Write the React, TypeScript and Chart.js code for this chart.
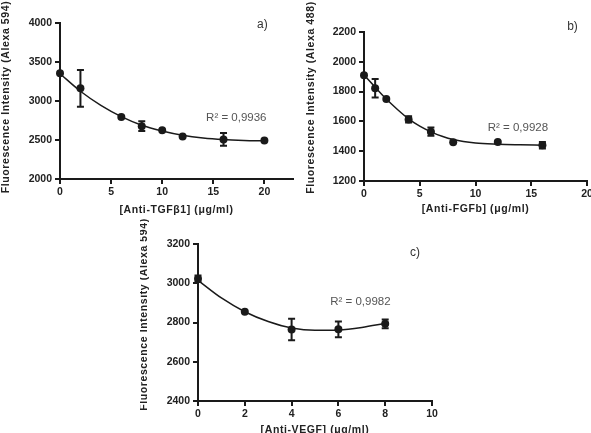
import { useEffect, useRef } from 'react';
import { Chart, registerables } from 'chart.js';

Chart.register(...registerables);

// a) anti-TGFβ1 dose response (mean ± SD) and fitted curve
const tgfDose = [0, 2, 6, 8, 10, 12, 16, 20];
const tgfMean = [3355, 3162, 2795, 2677, 2625, 2545, 2508, 2495];
const tgfSd = [0, 235, 0, 62, 0, 0, 82, 0];
const tgfFitDose = [0, 2, 4, 6, 8, 10, 12, 14, 16, 18, 20];
const tgfFit = [3350, 3125, 2945, 2800, 2690, 2615, 2560, 2525, 2505, 2495, 2490];

// b) anti-FGFb dose response
const fgfDose = [0, 1, 2, 4, 6, 8, 12, 16];
const fgfMean = [1910, 1822, 1750, 1613, 1531, 1460, 1462, 1440];
const fgfSd = [0, 62, 0, 21, 28, 0, 0, 22];
const fgfFitDose = [0, 1, 2, 3, 4, 5, 6, 7, 8, 10, 12, 14, 16];
const fgfFit = [1912, 1830, 1750, 1680, 1617, 1568, 1530, 1500, 1478, 1455, 1447, 1443, 1440];

// c) anti-VEGF dose response
const vegfDose = [0, 2, 4, 6, 8];
const vegfMean = [3023, 2855, 2764, 2765, 2793];
const vegfSd = [17, 0, 55, 40, 22];
const vegfFitDose = [0, 1, 2, 3, 4, 5, 6, 7, 8];
const vegfFit = [3015, 2925, 2855, 2805, 2772, 2760, 2762, 2775, 2795];

const INK = '#1a1a1a';
const FAMILY = '"Liberation Sans", Arial, sans-serif';

type PanelSpec = {
  box: { left: number; top: number; width: number; height: number };
  yAxisWidth: number;
  xAxisHeight: number;
  padTop: number;
  padRight: number;
  xMin: number;
  xMax: number;
  xStep: number;
  xLastTick: number;
  yMin: number;
  yMax: number;
  yStep: number;
  dose: number[];
  mean: number[];
  sd: number[];
  fitDose: number[];
  fit: number[];
  xTitle: string;
  yTitle: string;
  yTitleGap: number;
  yTitleShift: number;
  xTitleY: number;
  r2: string;
  r2At: [number, number];
  tag: string;
  tagAt: [number, number];
};

const panels: PanelSpec[] = [
  {
    box: { left: 0, top: 0, width: 300, height: 216 },
    yAxisWidth: 60, xAxisHeight: 37, padTop: 23, padRight: 7,
    xMin: 0, xMax: 22.8, xStep: 5, xLastTick: 20, yMin: 2000, yMax: 4000, yStep: 500,
    dose: tgfDose, mean: tgfMean, sd: tgfSd, fitDose: tgfFitDose, fit: tgfFit,
    xTitle: '[Anti-TGFβ1] (μg/ml)',
    yTitle: 'Fluorescence Intensity (Alexa 594)',
    yTitleGap: 54, yTitleShift: -4, xTitleY: 210,
    r2: 'R² = 0,9936', r2At: [17.25, 2782],
    tag: 'a)', tagAt: [19.8, 3975],
  },
  {
    box: { left: 300, top: 0, width: 291, height: 216 },
    yAxisWidth: 64, xAxisHeight: 35, padTop: 32, padRight: 4,
    xMin: 0, xMax: 20, xStep: 5, xLastTick: 20, yMin: 1200, yMax: 2200, yStep: 200,
    dose: fgfDose, mean: fgfMean, sd: fgfSd, fitDose: fgfFitDose, fit: fgfFit,
    xTitle: '[Anti-FGFb] (μg/ml)',
    yTitle: 'Fluorescence Intensity (Alexa 488)',
    yTitleGap: 53, yTitleShift: -9, xTitleY: 209.5,
    r2: 'R² = 0,9928', r2At: [13.8, 1556],
    tag: 'b)', tagAt: [18.7, 2234],
  },
  {
    box: { left: 140, top: 210, width: 300, height: 223 },
    yAxisWidth: 58, xAxisHeight: 32, padTop: 34, padRight: 8,
    xMin: 0, xMax: 10, xStep: 2, xLastTick: 10, yMin: 2400, yMax: 3200, yStep: 200,
    dose: vegfDose, mean: vegfMean, sd: vegfSd, fitDose: vegfFitDose, fit: vegfFit,
    xTitle: '[Anti-VEGF] (μg/ml)',
    yTitle: 'Fluorescence Intensity (Alexa 594)',
    yTitleGap: 54, yTitleShift: -8, xTitleY: 220,
    r2: 'R² = 0,9982', r2At: [6.94, 2903],
    tag: 'c)', tagAt: [9.27, 3158],
  },
];

// Error bars, axis titles, R² note and panel letter
function decorPlugin(p: PanelSpec) {
  return {
    id: 'panelDecor',
    afterDatasetsDraw(chart: any) {
      const { ctx, scales } = chart;
      const x = scales.x;
      const y = scales.y;
      ctx.save();
      ctx.strokeStyle = INK;
      ctx.lineWidth = 2;
      p.dose.forEach((d, i) => {
        const s = p.sd[i];
        if (!s) return;
        const px = x.getPixelForValue(d);
        const top = y.getPixelForValue(p.mean[i] + s);
        const bot = y.getPixelForValue(p.mean[i] - s);
        ctx.beginPath();
        ctx.moveTo(px, top);
        ctx.lineTo(px, bot);
        ctx.moveTo(px - 3.5, top);
        ctx.lineTo(px + 3.5, top);
        ctx.moveTo(px - 3.5, bot);
        ctx.lineTo(px + 3.5, bot);
        ctx.stroke();
      });
      ctx.restore();
    },
    afterDraw(chart: any) {
      const { ctx, chartArea, scales } = chart;
      const x = scales.x;
      const y = scales.y;
      ctx.save();
      ctx.textAlign = 'center';
      ctx.textBaseline = 'middle';
      ctx.fillStyle = '#222';
      ctx.font = `bold 10.5px ${FAMILY}`;
      ctx.letterSpacing = '0.6px';
      ctx.fillText(p.xTitle, (chartArea.left + chartArea.right) / 2, p.xTitleY);
      ctx.save();
      ctx.translate(chartArea.left - p.yTitleGap, (chartArea.top + chartArea.bottom) / 2 + p.yTitleShift);
      ctx.rotate(-Math.PI / 2);
      ctx.fillText(p.yTitle, 0, 0);
      ctx.restore();
      ctx.letterSpacing = '0px';
      ctx.font = `11.5px ${FAMILY}`;
      ctx.fillStyle = '#555';
      ctx.fillText(p.r2, x.getPixelForValue(p.r2At[0]), y.getPixelForValue(p.r2At[1]));
      ctx.font = `12px ${FAMILY}`;
      ctx.fillStyle = '#333';
      ctx.fillText(p.tag, x.getPixelForValue(p.tagAt[0]), y.getPixelForValue(p.tagAt[1]));
      ctx.restore();
    },
  };
}

function axis(min: number, max: number, step: number, last: number, fit: (s: any) => void, padding: number) {
  return {
    type: 'linear' as const,
    min,
    max,
    ticks: {
      stepSize: step,
      autoSkip: false,
      maxRotation: 0,
      padding,
      color: '#222',
      font: { family: FAMILY, size: 10.5, weight: 'bold' as const },
      callback: (v: any) => `${v}`,
    },
    afterBuildTicks: (s: any) => {
      const ticks: { value: number }[] = [];
      for (let v = min; v <= last + 1e-9; v += step) ticks.push({ value: v });
      s.ticks = ticks;
    },
    afterFit: (s: any) => {
      fit(s);
      s.paddingLeft = 0;
      s.paddingRight = 0;
      s.paddingTop = 0;
      s.paddingBottom = 0;
    },
    grid: { drawOnChartArea: false, drawTicks: true, tickLength: 5, color: INK, lineWidth: 2 },
    border: { display: true, color: INK, width: 2 },
  };
}

function Panel({ spec }: { spec: PanelSpec }) {
  const ref = useRef<HTMLCanvasElement>(null);
  useEffect(() => {
    const canvas = ref.current;
    if (!canvas) return;
    const chart = new Chart(canvas, {
      type: 'scatter',
      data: {
        datasets: [
          {
            type: 'line',
            data: spec.fitDose.map((d, i) => ({ x: d, y: spec.fit[i] })),
            borderColor: INK,
            borderWidth: 1.5,
            pointRadius: 0,
            showLine: true,
            fill: false,
            cubicInterpolationMode: 'monotone',
            clip: false,
          } as any,
          {
            type: 'scatter',
            data: spec.dose.map((d, i) => ({ x: d, y: spec.mean[i] })),
            pointRadius: 4,
            pointBackgroundColor: INK,
            pointBorderWidth: 0,
            clip: false,
          } as any,
        ],
      },
      options: {
        responsive: false,
        animation: false,
        devicePixelRatio: 1,
        layout: { padding: { top: spec.padTop, right: spec.padRight, left: 0, bottom: 0 } },
        plugins: { legend: { display: false }, tooltip: { enabled: false } },
        scales: {
          x: {
            ...axis(spec.xMin, spec.xMax, spec.xStep, spec.xLastTick, (s) => { s.height = spec.xAxisHeight; }, 2),
            position: 'bottom',
          },
          y: {
            ...axis(spec.yMin, spec.yMax, spec.yStep, spec.yMax, (s) => { s.width = spec.yAxisWidth; }, 3),
            position: 'left',
          },
        } as any,
      },
      plugins: [decorPlugin(spec)],
    });
    return () => chart.destroy();
  }, [spec]);
  const { left, top, width, height } = spec.box;
  return (
    <canvas
      ref={ref}
      width={width}
      height={height}
      style={{ position: 'absolute', left, top, width, height }}
    />
  );
}

export default function App() {
  return (
    <div
      style={{
        position: 'fixed',
        left: 0,
        top: 0,
        width: 591,
        height: 433,
        overflow: 'hidden',
        background: '#fff',
      }}
    >
      {panels.map((p, i) => (
        <Panel key={i} spec={p} />
      ))}
    </div>
  );
}
